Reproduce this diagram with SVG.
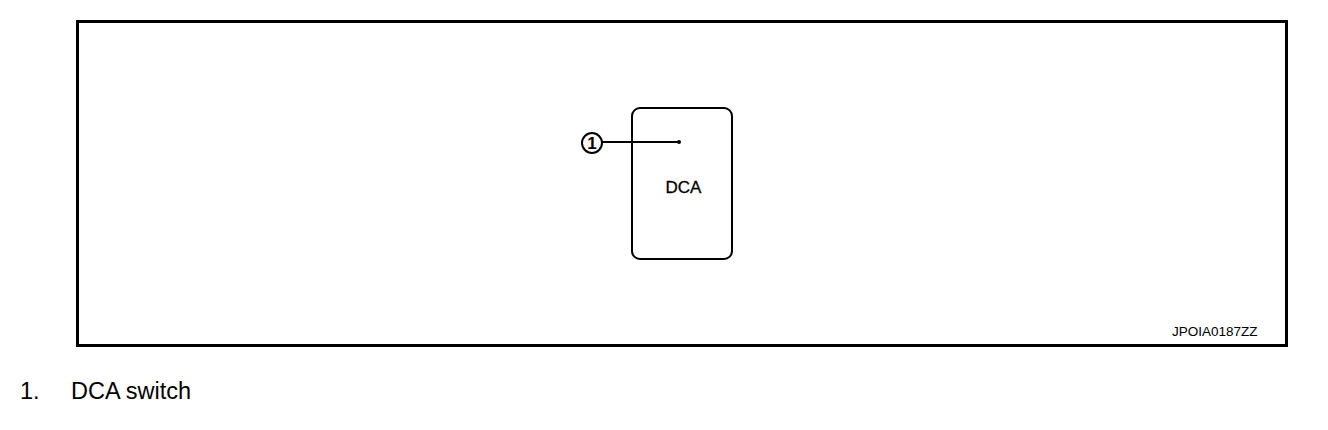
<svg xmlns="http://www.w3.org/2000/svg" width="1328" height="430" viewBox="0 0 1328 430">
<style>
.t{font-family:"Liberation Sans",Arial,sans-serif;fill:#000}
.ln{stroke:#000;fill:none}
</style>
<rect width="1328" height="430" fill="#fff"/>
<rect x="77.5" y="21.5" width="1209" height="324" class="ln" stroke-width="3"/>
<g id="switch">
<rect x="632" y="108" width="100" height="151" rx="8" class="ln" stroke-width="2"/>
<text x="683.5" y="193" class="t" font-size="17" text-anchor="middle" stroke="#000" stroke-width="0.3">DCA</text>
</g>
<g id="callout1">
<circle cx="592" cy="143" r="10" class="ln" stroke-width="2"/>
<text x="592" y="149" class="t" font-size="17" font-weight="bold" text-anchor="middle">1</text>
</g>
<g id="connectors">
<line x1="602" y1="142" x2="679" y2="142" class="ln" stroke-width="2"/>
<circle cx="679" cy="142" r="2" fill="#000"/>
</g>
<text x="1172" y="336" class="t" font-size="13.5">JPOIA0187ZZ</text>
<text x="20" y="399" class="t" font-size="23.5">1.</text>
<text x="71" y="399" class="t" font-size="23.5">DCA switch</text>
</svg>
